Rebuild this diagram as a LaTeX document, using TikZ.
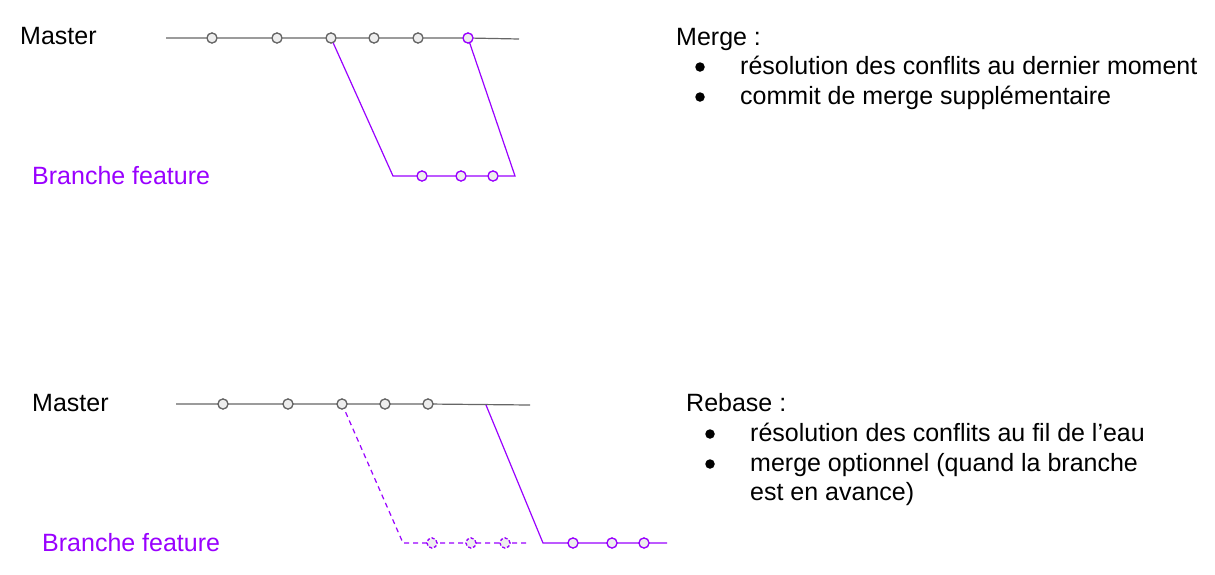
\documentclass[tikz,border=0pt]{standalone}
\usepackage{fontspec}
\setmainfont{Liberation Sans}
\definecolor{purp}{HTML}{9900FF}
\definecolor{lgray}{HTML}{666666}
\definecolor{cfill}{HTML}{EEEEEE}
\begin{document}
\begin{tikzpicture}[x=1pt,y=-1pt,
  commit/.style={circle,draw=lgray,fill=cfill,line width=1.2pt,minimum size=10pt,inner sep=0pt},
  pcommit/.style={commit,draw=purp},
  dcommit/.style={commit,draw=purp,dash pattern=on 3pt off 2pt},
  mline/.style={draw=lgray,line width=1.2pt},
  bline/.style={draw=purp,line width=1.2pt},
  dline/.style={bline,dash pattern=on 5pt off 4pt},
  lbl/.style={anchor=base west,inner sep=0pt,font=\fontsize{25}{30}\selectfont},
  plbl/.style={lbl,text=purp},
  bullet/.style={circle,fill=black,minimum size=9.5pt,inner sep=0pt}]
\useasboundingbox (0,0) rectangle (1215,574);

% ---------- Merge ----------
\node[lbl] (master1) at (20,44) {Master};
\node[plbl] (feat1) at (32,184) {Branche feature};
\coordinate (ms1) at (166,38);
\coordinate (me1) at (519,39);
\node[commit] (a1) at (212,38) {};
\node[commit] (a2) at (277,38) {};
\node[commit] (a3) at (331,38) {};
\node[commit] (a4) at (374,38) {};
\node[commit] (a5) at (418,38) {};
\node[pcommit] (a6) at (468,38) {};
\coordinate (bc1) at (393,176);
\coordinate (bc2) at (515,176);
\node[pcommit] (b1) at (422,176) {};
\node[pcommit] (b2) at (461,176) {};
\node[pcommit] (b3) at (493,176) {};
\path[mline] (ms1) -- (a1) -- (a2) -- (a3) -- (a4) -- (a5) -- (a6) -- (me1);
\path[bline] (a3.center) -- (bc1) -- (b1) -- (b2) -- (b3) -- (bc2) -- (a6.center);
\foreach \n in {a1,a2,a3,a4,a5}{\node[commit] at (\n) {};}
\node[pcommit] at (a6) {};
\foreach \n in {b1,b2,b3}{\node[pcommit] at (\n) {};}

\node[lbl] (mt) at (676,45) {Merge :};
\node[bullet] (mb1) at (700,67) {};
\node[lbl] (ml1) at (740,74) {résolution des conflits au dernier moment};
\node[bullet] (mb2) at (700,97) {};
\node[lbl] (ml2) at (740,104) {commit de merge supplémentaire};

% ---------- Rebase ----------
\node[lbl] (master2) at (32,411) {Master};
\node[plbl] (feat2) at (42,551) {Branche feature};
\coordinate (ms2) at (176,404);
\coordinate (me2) at (530,405);
\coordinate (fork) at (486,405);
\node[commit] (c1) at (223,404) {};
\node[commit] (c2) at (288,404) {};
\node[commit] (c3) at (342,404) {};
\node[commit] (c4) at (385,404) {};
\node[commit] (c5) at (428,404) {};
\coordinate (dc1) at (403,543);
\coordinate (dc2) at (527,543);
\node[dcommit] (d1) at (432,543) {};
\node[dcommit] (d2) at (471,543) {};
\node[dcommit] (d3) at (505,543) {};
\coordinate (rc1) at (543,543);
\coordinate (rc2) at (667,543);
\node[pcommit] (r1) at (573,543) {};
\node[pcommit] (r2) at (612,543) {};
\node[pcommit] (r3) at (644,543) {};
\path[mline] (ms2) -- (c1.center) -- (c5.center) -- (me2);
\path[dline] (c3.center) -- (dc1) -- (dc2);
\path[bline] (fork) -- (rc1) -- (rc2);
\foreach \n in {c1,c2,c3,c4,c5}{\node[commit] at (\n) {};}
\foreach \n in {d1,d2,d3}{\node[dcommit] at (\n) {};}
\foreach \n in {r1,r2,r3}{\node[pcommit] at (\n) {};}

\node[lbl] (rt) at (686,411) {Rebase :};
\node[bullet] (rb1) at (710,434) {};
\node[lbl] (rl1) at (750,441) {résolution des conflits au fil de l’eau};
\node[bullet] (rb2) at (710,464) {};
\node[lbl] (rl2) at (750,471) {merge optionnel (quand la branche};
\node[lbl] (rl3) at (750,500) {est en avance)};
\end{tikzpicture}
\end{document}
